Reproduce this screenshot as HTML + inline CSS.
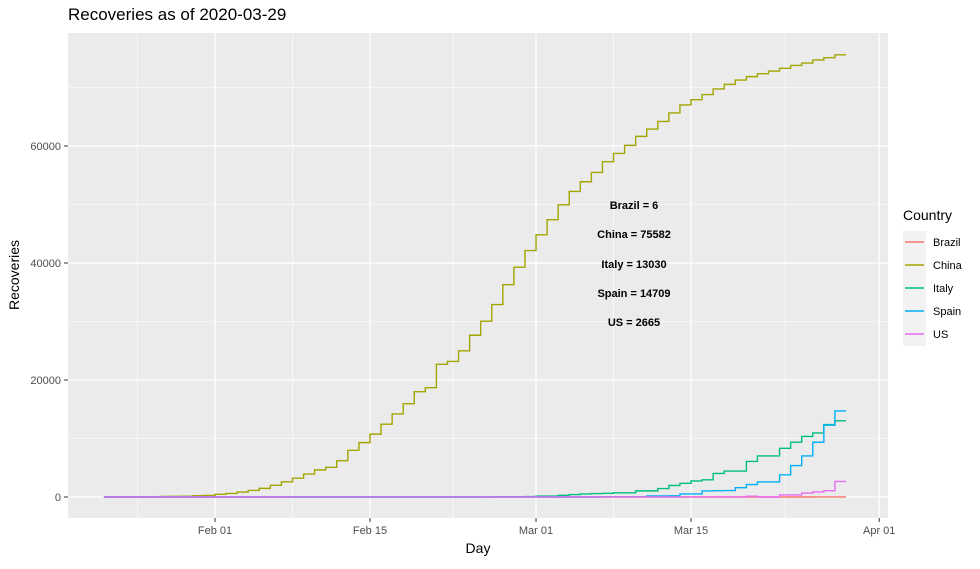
<!DOCTYPE html>
<html><head><meta charset="utf-8"><style>
body{margin:0;background:#fff;font-family:"Liberation Sans",sans-serif;}
svg text{font-family:"Liberation Sans",sans-serif;}
</style></head><body>
<svg id="chart" width="980" height="564" xmlns="http://www.w3.org/2000/svg">
<rect width="980" height="564" fill="#fff"/>
<text x="68" y="20" font-size="17" fill="#000">Recoveries as of 2020-03-29</text>
<rect x="68" y="33" width="820" height="485" fill="#ebebeb"/>
<g id="grid"></g><g id="series"></g><g id="axes"></g>
<text x="478" y="553" font-size="14" text-anchor="middle">Day</text>
<text transform="translate(19,275) rotate(-90)" font-size="14" text-anchor="middle">Recoveries</text>
<g font-size="11" font-weight="bold" text-anchor="middle">
<text x="634" y="209">Brazil = 6</text>
<text x="634" y="238">China = 75582</text>
<text x="634" y="268">Italy = 13030</text>
<text x="634" y="297">Spain = 14709</text>
<text x="634" y="326">US = 2665</text>
</g>
<g id="legend">
<text x="903" y="220" font-size="14">Country</text>
</g>
</svg>
<script>
const startDay = 0; // Jan 22
const china = [28,30,36,39,49,58,101,120,135,214,275,463,614,843,1115,1476,1998,2595,3218,3917,4635,5079,6213,7973,9294,10748,12455,14199,15952,18002,18693,22687,23170,24990,27650,30053,32898,36291,39279,42118,44810,47404,49955,52240,53888,55478,57320,58735,60106,61644,62901,64196,65660,67017,67910,68798,69755,70535,71266,71857,72362,72814,73280,73773,74181,74720,75100,75582];
const italy = [0,0,0,0,0,0,0,0,0,0,0,0,0,0,0,0,0,0,0,0,0,0,0,0,0,0,0,0,0,0,0,1,2,1,1,3,45,46,46,83,149,160,276,414,523,589,622,724,724,1045,1045,1439,1966,2335,2749,2941,4025,4440,4440,6072,7024,7024,8326,9362,10361,10950,12384,13030];
const spain = [0,0,0,0,0,0,0,0,0,0,0,0,0,0,0,0,0,0,0,0,0,0,0,0,0,0,0,0,0,0,0,0,0,0,0,0,0,0,0,0,0,0,0,0,0,0,30,30,32,32,183,183,193,517,517,1028,1081,1107,1588,2125,2575,2575,3794,5367,7015,9357,12285,14709];
const us = [0,0,0,0,0,0,0,0,0,0,0,0,0,0,0,0,0,0,3,3,3,3,3,3,3,3,3,3,3,3,3,5,5,5,5,5,5,6,6,7,7,7,7,7,7,7,7,7,8,8,12,12,12,17,17,17,17,17,17,147,0,0,348,361,681,869,1072,2665];
const brazil = [0,0,0,0,0,0,0,0,0,0,0,0,0,0,0,0,0,0,0,0,0,0,0,0,0,0,0,0,0,0,0,0,0,0,0,0,0,0,0,0,0,0,0,0,0,0,0,0,0,0,0,0,0,0,0,0,2,2,2,2,2,2,2,2,2,6,6,6];
const countries = ["Brazil","China","Italy","Spain","US"];
const colors = ["#F8766D","#A3A500","#00BF7D","#00B0F6","#E76BF3"];
const yTicks = [0,20000,40000,60000];
const xTickLabels = ["Feb 01","Feb 15","Mar 01","Mar 15","Apr 01"];
const xTickDays = [10,24,39,53,70];
const ns="http://www.w3.org/2000/svg";
const X = d => 104.3 + d*11.07;
const Y = v => 497 - v*117/20000;
function mk(tag, attrs, parent){const e=document.createElementNS(ns,tag);for(const k in attrs)e.setAttribute(k,attrs[k]);parent.appendChild(e);return e;}
const grid=document.getElementById('grid'), axes=document.getElementById('axes'), series=document.getElementById('series'), legend=document.getElementById('legend');
for(let i=0;i<xTickDays.length-1;i++){const l=mk('line',{x1:X((xTickDays[i]+xTickDays[i+1])/2),x2:X((xTickDays[i]+xTickDays[i+1])/2),y1:33,y2:518,stroke:'#fff','stroke-width':0.6},grid);

}
{const l=mk('line',{x1:X(3),x2:X(3),y1:33,y2:518,stroke:'#fff','stroke-width':0.6},grid);

}
for(const v of [10000,30000,50000,70000]){const l=mk('line',{x1:68,x2:888,y1:Y(v),y2:Y(v),stroke:'#fff','stroke-width':0.6},grid);

}
xTickDays.forEach((d,i)=>{const l=mk('line',{x1:X(d),x2:X(d),y1:33,y2:518,stroke:'#fff','stroke-width':1.3},grid);


const t=mk('line',{x1:X(d),x2:X(d),y1:518,y2:522,stroke:'#333'},axes);


const tx=mk('text',{x:X(d),y:534,'font-size':11,fill:'#4d4d4d','text-anchor':'middle'},axes);tx.textContent=xTickLabels[i];

});
yTicks.forEach(v=>{const l=mk('line',{x1:68,x2:888,y1:Y(v),y2:Y(v),stroke:'#fff','stroke-width':1.3},grid);


const t=mk('line',{x1:64,x2:68,y1:Y(v),y2:Y(v),stroke:'#333'},axes);


const tx=mk('text',{x:61,y:Y(v)+4,'font-size':11,fill:'#4d4d4d','text-anchor':'end'},axes);tx.textContent=v;

});
const data=[brazil,china,italy,spain,us];
data.forEach((arr,ci)=>{let d='';arr.forEach((v,i)=>{const x=X(startDay+i),y=Y(v);if(i===0)d+=`M${x},${y}`;else d+=`V${y}H${x}`;});
const p=mk('path',{d:d,fill:'none',stroke:colors[ci],'stroke-width':1.4},series);


const ky=242+ci*23;
const kr=mk('rect',{x:903,y:ky-11,width:23,height:23,fill:'#f2f2f2'},legend);


const kl=mk('line',{x1:905,x2:924,y1:ky,y2:ky,stroke:colors[ci],'stroke-width':1.4},legend);


const kt=mk('text',{x:933,y:ky+4,'font-size':11,fill:'#000'},legend);kt.textContent=countries[ci];

});
</script>
</body></html>
